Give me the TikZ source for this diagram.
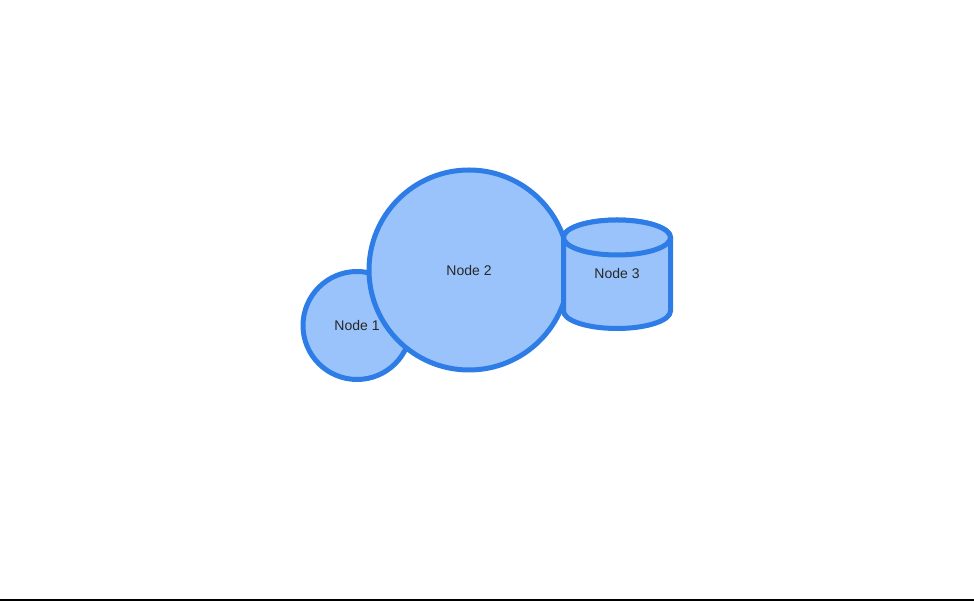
\documentclass[tikz,border=0pt]{standalone}
\usepackage{fontspec}
\setmainfont{Liberation Sans}
\definecolor{strokeblue}{RGB}{46,125,230}
\definecolor{fillblue}{RGB}{153,195,250}
\definecolor{txt}{RGB}{40,40,40}
\begin{document}
\begin{tikzpicture}[x=1pt,y=1pt,
  shapestyle/.style={draw=strokeblue,fill=fillblue,line width=5pt},
  lbl/.style={text=txt,font=\fontsize{14}{16}\selectfont,inner sep=0pt}]
\useasboundingbox (0,0) rectangle (974,601);
\node[shapestyle,circle,minimum size=108pt,inner sep=0pt] (n1) at (357,275.5) {};
\node[lbl] (t1) at (n1.center) {Node 1};
\node[shapestyle,circle,minimum size=200pt,inner sep=0pt] (n2) at (469,331) {};
\node[lbl] (t2) at ([yshift=-1pt]n2.center) {Node 2};
\filldraw[shapestyle] (563.5,363.5) -- (563.5,290)
  arc[start angle=180,end angle=360,x radius=53.5,y radius=17.5]
  -- (670.5,363.5)
  arc[start angle=0,end angle=180,x radius=53.5,y radius=17.5] -- cycle;
\draw[shapestyle] (617,363.5) ellipse[x radius=53.5,y radius=17.5];
\node[lbl] (n3) at (617,327) {Node 3};
\coordinate (la) at (0,1);
\coordinate (lb) at (974,1);
\draw[black,line width=1.5pt] (la) -- (lb);
\end{tikzpicture}
\end{document}
